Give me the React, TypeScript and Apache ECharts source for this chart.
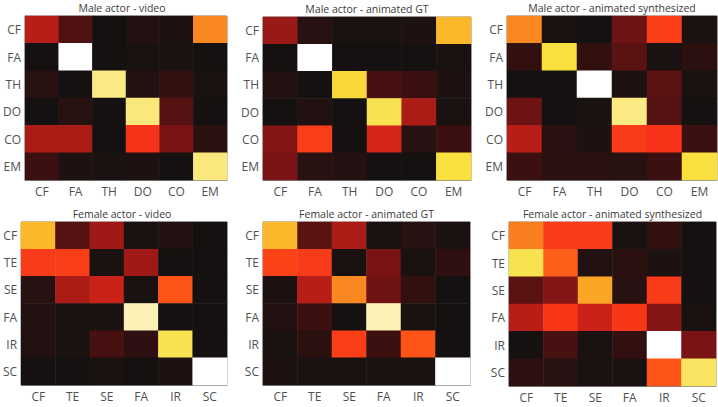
import React, { useEffect, useRef } from "react";
import * as echarts from "echarts";

const maleLabels = ["CF", "FA", "TH", "DO", "CO", "EM"];
const femaleLabels = ["CF", "TE", "SE", "FA", "IR", "SC"];

const titles = [
  "Male actor - video",
  "Male actor - animated GT",
  "Male actor - animated synthesized",
  "Female actor - video",
  "Female actor - animated GT",
  "Female actor - animated synthesized",
];

// rows = actual class (top to bottom), columns = predicted class (left to right)
const maleVideo = [
  [0.3, 0.13, 0.01, 0.04, 0.03, 0.6],
  [0.01, 1.0, 0.01, 0.02, 0.02, 0.01],
  [0.05, 0.01, 0.88, 0.04, 0.08, 0.02],
  [0.01, 0.05, 0.01, 0.87, 0.14, 0.01],
  [0.28, 0.28, 0.01, 0.42, 0.2, 0.06],
  [0.1, 0.03, 0.02, 0.03, 0.01, 0.87],
];
const maleGT = [
  [0.25, 0.05, 0.02, 0.02, 0.03, 0.7],
  [0.01, 1.0, 0.01, 0.01, 0.01, 0.02],
  [0.04, 0.01, 0.78, 0.12, 0.1, 0.03],
  [0.01, 0.04, 0.01, 0.82, 0.28, 0.02],
  [0.22, 0.45, 0.01, 0.35, 0.05, 0.1],
  [0.2, 0.05, 0.04, 0.01, 0.01, 0.8],
];
const maleSynth = [
  [0.6, 0.02, 0.01, 0.18, 0.45, 0.02],
  [0.08, 0.8, 0.08, 0.15, 0.02, 0.06],
  [0.01, 0.01, 1.0, 0.03, 0.15, 0.02],
  [0.18, 0.01, 0.02, 0.88, 0.14, 0.01],
  [0.3, 0.06, 0.03, 0.44, 0.42, 0.1],
  [0.1, 0.06, 0.06, 0.05, 0.1, 0.8],
];
const femaleVideo = [
  [0.7, 0.14, 0.26, 0.02, 0.04, 0.01],
  [0.44, 0.45, 0.02, 0.26, 0.01, 0.01],
  [0.05, 0.28, 0.33, 0.02, 0.5, 0.01],
  [0.04, 0.02, 0.02, 0.93, 0.01, 0.01],
  [0.04, 0.02, 0.12, 0.07, 0.82, 0.01],
  [0.01, 0.01, 0.02, 0.01, 0.03, 1.0],
];
const femaleGT = [
  [0.7, 0.15, 0.28, 0.02, 0.05, 0.02],
  [0.46, 0.44, 0.02, 0.2, 0.02, 0.07],
  [0.03, 0.3, 0.6, 0.18, 0.08, 0.01],
  [0.04, 0.1, 0.01, 0.93, 0.02, 0.01],
  [0.02, 0.06, 0.45, 0.1, 0.5, 0.01],
  [0.03, 0.02, 0.02, 0.02, 0.02, 1.0],
];
const femaleSynth = [
  [0.58, 0.44, 0.44, 0.02, 0.08, 0.01],
  [0.82, 0.52, 0.04, 0.06, 0.03, 0.01],
  [0.15, 0.22, 0.66, 0.05, 0.44, 0.01],
  [0.3, 0.43, 0.33, 0.43, 0.22, 0.02],
  [0.01, 0.12, 0.02, 0.08, 1.0, 0.2],
  [0.07, 0.05, 0.02, 0.02, 0.5, 0.84],
];

const matrices = [maleVideo, maleGT, maleSynth, femaleVideo, femaleGT, femaleSynth];
const labelSets = [maleLabels, maleLabels, maleLabels, femaleLabels, femaleLabels, femaleLabels];

const hotColors = [
  "#111111",
  "#3c1010",
  "#7a1414",
  "#b81e18",
  "#f42a18",
  "#ff5418",
  "#f98820",
  "#fbb82a",
  "#f9e03e",
  "#fbeb96",
  "#ffffff",
];

const grids = [
  { left: 17, top: 16, width: 210, height: 164 },
  { left: 263, top: 17, width: 208, height: 163 },
  { left: 507, top: 16, width: 210, height: 164 },
  { left: 17, top: 222, width: 210, height: 163 },
  { left: 263, top: 222, width: 207, height: 163 },
  { left: 509, top: 222, width: 207, height: 164 },
];

const FONT = "'Open Sans', 'Noto Sans', sans-serif";

export default function App() {
  const ref = useRef<HTMLDivElement>(null);
  useEffect(() => {
    if (!ref.current) return;
    const chart = echarts.init(ref.current, null, { renderer: "svg" });
    const xAxis: any[] = [];
    const yAxis: any[] = [];
    const series: any[] = [];
    const graphic: any[] = [];
    grids.forEach((g, i) => {
      const labels = labelSets[i];
      xAxis.push({
        type: "category",
        gridIndex: i,
        data: labels,
        axisLine: { show: true, lineStyle: { color: "#8a8a8a", width: 1 } },
        axisTick: { show: true, inside: true, alignWithLabel: true, length: 3, lineStyle: { color: "#777" } },
        axisLabel: { color: "#505050", fontSize: 12, fontFamily: FONT, margin: 5 },
        splitLine: { show: false },
        splitArea: { show: false },
      });
      yAxis.push({
        type: "category",
        gridIndex: i,
        data: labels,
        inverse: true,
        axisLine: { show: true, lineStyle: { color: "#8a8a8a", width: 1 } },
        axisTick: { show: true, inside: true, alignWithLabel: true, length: 3, lineStyle: { color: "#777" } },
        axisLabel: { color: "#505050", fontSize: 12, fontFamily: FONT, margin: 4 },
        splitLine: { show: false },
        splitArea: { show: false },
      });
      const data: number[][] = [];
      matrices[i].forEach((row, r) => {
        row.forEach((v, c) => {
          data.push([c, r, v]);
        });
      });
      series.push({
        type: "heatmap",
        xAxisIndex: i,
        yAxisIndex: i,
        data,
        itemStyle: { borderWidth: 0 },
        emphasis: { disabled: true },
      });
      graphic.push({
        type: "text",
        x: g.left + g.width / 2,
        y: g.top - 8,
        style: {
          text: titles[i],
          align: "center",
          verticalAlign: "middle",
          fill: "#3a3a3a",
          fontSize: 10.5,
          fontFamily: FONT,
        },
      });
    });
    chart.setOption({
      animation: false,
      backgroundColor: "#ffffff",
      grid: grids.map((g) => ({
        ...g,
        show: true,
        borderColor: "#8a8a8a",
        borderWidth: 1,
        backgroundColor: "transparent",
      })),
      xAxis,
      yAxis,
      visualMap: {
        type: "continuous",
        show: false,
        min: 0,
        max: 1,
        seriesIndex: [0, 1, 2, 3, 4, 5],
        inRange: { color: hotColors },
      },
      series,
      graphic,
    });
    return () => chart.dispose();
  }, []);
  return (
    <div
      ref={ref}
      style={{ position: "fixed", left: 0, top: 0, width: 718, height: 407 }}
    />
  );
}
